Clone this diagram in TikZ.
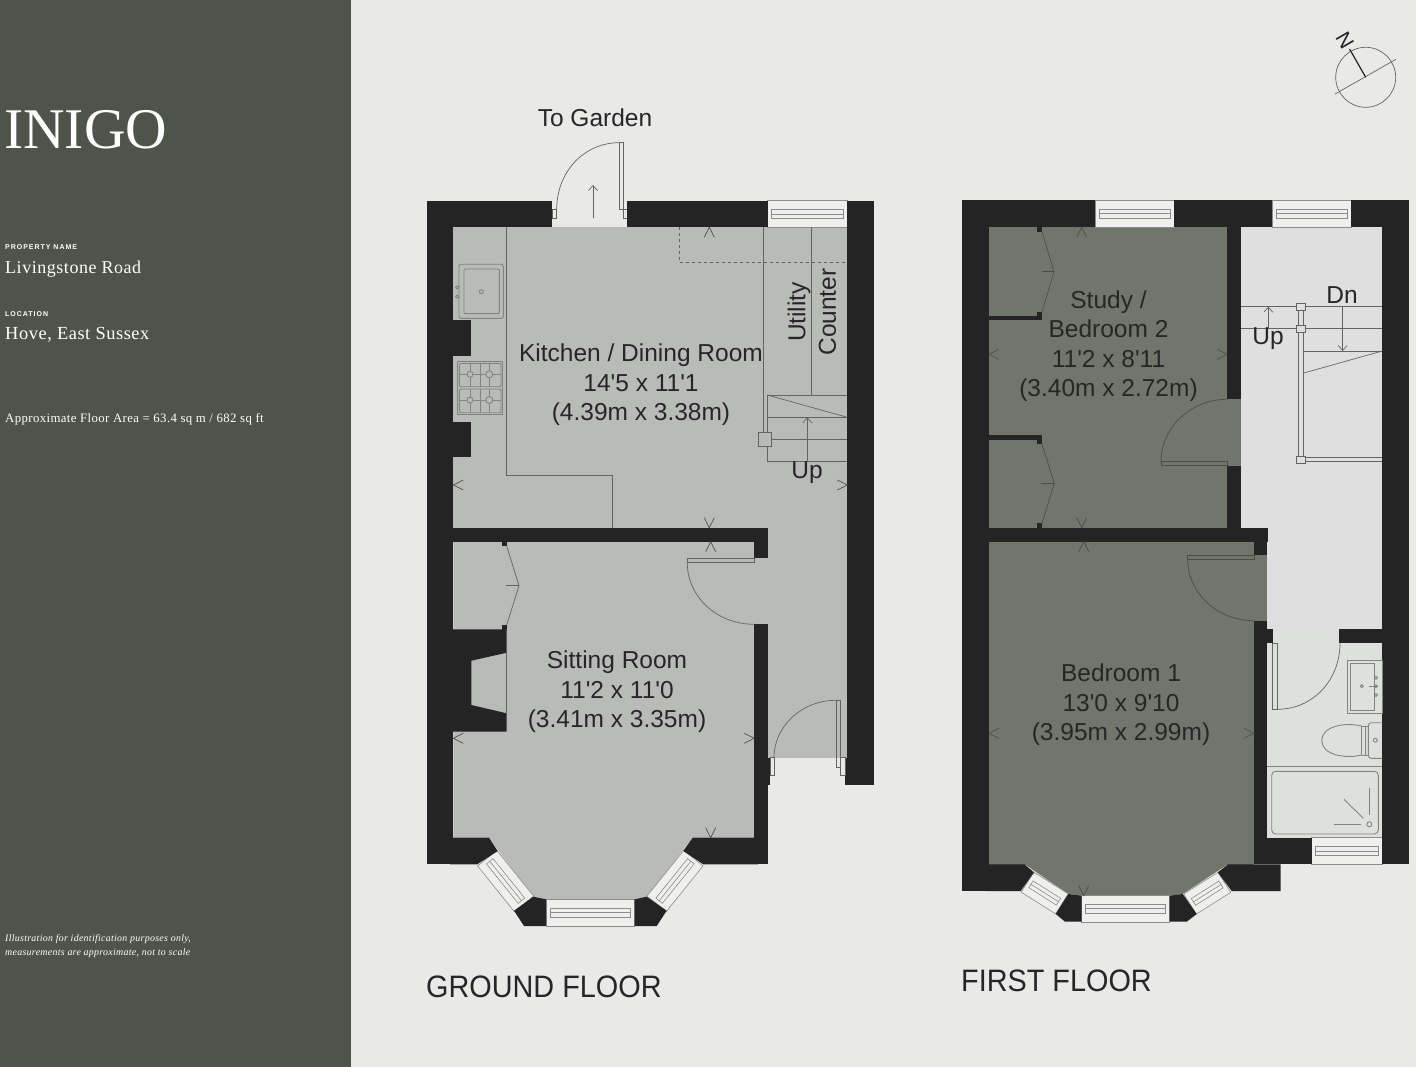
\documentclass[tikz,border=0pt]{standalone}
\usepackage{fontspec}
\setmainfont{Liberation Sans}
\newfontfamily\sidefont[LetterSpace=3]{Liberation Serif}
\newfontfamily\logofont{Liberation Serif}
\newfontfamily\capsfont[LetterSpace=14]{Liberation Sans}
\newcommand{\ft}{\textquotesingle}
\definecolor{paperc}{HTML}{E9E9E7}
\definecolor{sidec}{HTML}{4F544B}
\definecolor{wallc}{HTML}{242424}
\definecolor{groundc}{HTML}{B9BBB8}
\definecolor{roomc}{HTML}{71766D}
\definecolor{landingc}{HTML}{E0DFDF}
\definecolor{bathc}{HTML}{DEE0DD}
\definecolor{glassc}{HTML}{EFEFED}
\definecolor{linec}{HTML}{62655F}
\tikzset{
  thinline/.style={draw=linec, line width=0.7pt},
  darkline/.style={draw=black!70, line width=0.7pt},
  fixture/.style={draw=linec!80, line width=0.9pt},
  glassline/.style={draw=black!45, line width=0.6pt},
  wall/.style={fill=wallc},
  roomlabel/.style={text=black!85, align=center, font=\fontsize{24.5}{29.5}\selectfont, inner sep=0pt},
  floorlabel/.style={text=black!85, anchor=west, inner sep=0pt, xscale=.93, font=\fontsize{31}{31}\selectfont},
  sidelabel/.style={text=white, anchor=west, inner sep=0pt},
  upbarb/.style={thinline, ->, >={Straight Barb[length=5pt, width=9pt]}},
  dimmark/.pic={\draw[darkline] (-5,10) -- (0,0) -- (5,10);},
  glazing/.pic={
    \draw[glassline, fill=glassc] (-#1,-13.3) rectangle (#1,13.3);
    \draw[glassline] (-#1+4,-4.5) rectangle (#1-4,4.5);
    \draw[glassline] (-#1+4,0) -- (#1-4,0);
  },
}
\usetikzlibrary{arrows.meta}
\begin{document}
\begin{tikzpicture}[x=1pt, y=-1pt]
  \useasboundingbox (0,0) rectangle (1416,1067);
  \fill[paperc] (0,0) rectangle (1416,1067);
  \fill[sidec] (0,0) rectangle (350.5,1067);

  % Sidebar
  \node[sidelabel] (logo) at (4,129.5) {\fontsize{57.5}{58}\selectfont\logofont INIGO};
  \node[sidelabel] (namecap) at (5,247) {\capsfont\bfseries\fontsize{7}{8}\selectfont PROPERTY NAME};
  \node[sidelabel] (nametext) at (5,269) {\sidefont\fontsize{18}{20}\selectfont Livingstone Road};
  \node[sidelabel] (placecap) at (5,314) {\capsfont\bfseries\fontsize{7}{8}\selectfont LOCATION};
  \node[sidelabel] (placetext) at (5,334.5) {\sidefont\fontsize{18.4}{20}\selectfont Hove, East Sussex};
  \node[sidelabel] (areatext) at (5,419.5) {\sidefont\fontsize{12.8}{14}\selectfont Approximate Floor Area = 63.4 sq m / 682 sq ft};
  \node[sidelabel, align=left, font=\sidefont\itshape\fontsize{9.9}{14.5}\selectfont] (notetext) at (5,946) {Illustration for identification purposes only,\\measurements are approximate, not to scale};

  % Compass
  \draw[thinline] (1365.7,77.3) circle (30);
  \draw[thinline] (1335,94) -- (1396,59.3);
  \draw[wallc, line width=1.2pt] (1365.7,77.3) -- (1349.5,49);
  \node[rotate=-60, inner sep=0pt, text=wallc, font=\fontsize{21}{21}\selectfont] (north) at (1345,40.5) {N};

  % Ground floor
  \begin{scope}
    \fill[groundc] (453.3,227.3) rectangle (847.3,541.7);
    \fill[groundc] (767.7,541.7) rectangle (847.3,757.7);
    \fill[groundc] (754,558.3) rectangle (768,624.3);
    \fill[groundc] (453.3,541.7) -- (754.3,541.7) -- (754.3,837.7) -- (692.7,837.7) -- (646.7,897)
      -- (634.7,899.3) -- (546,899.3) -- (533.3,897) -- (489,837.7) -- (453.3,837.7) -- cycle;

    \pic at (807.5,214) {glazing=39.8};
    \pic[rotate=-51.2, yscale=.93] at (505.6,881) {glazing=29.3};
    \pic[rotate=51.2, yscale=.93] at (675,881) {glazing=29.3};
    \pic at (590.3,912.7) {glazing=44.3};

    \fill[wall] (426.7,200.7) rectangle (552.3,227.3);
    \fill[wall] (627.3,200.7) rectangle (767.7,227.3);
    \fill[wall] (847.3,200.7) rectangle (874,785);
    \fill[wall] (845,757.7) rectangle (847.4,785);
    \fill[wall] (426.7,200.7) rectangle (453.3,864.3);
    \fill[wall] (450,320) rectangle (471.3,355.7);
    \fill[wall] (450,421.7) rectangle (471.3,457.3);
    \fill[wall] (450,527.7) rectangle (767.7,541.7);
    \fill[wall] (754.3,541) rectangle (767.7,558.3);
    \fill[wall] (450,629.3) -- (506.7,629.3) -- (506.7,652.7) -- (471.3,660.7) -- (471.3,705)
      -- (506.7,713.3) -- (506.7,731.7) -- (450,731.7) -- cycle;
    \fill[wall] (501.7,541) rectangle (506.7,546);
    \fill[wall] (501.7,625) rectangle (506.7,630);
    \fill[wall] (754.3,624.3) rectangle (767.7,864.3);
    \fill[wall] (767,757.7) rectangle (770,785);
    \fill[wall] (450,837.7) -- (489,837.7) -- (497.7,851) -- (477.3,864.3) -- (450,864.3) -- cycle;
    \fill[wall] (758,837.7) -- (692.7,837.7) -- (683.3,851) -- (703.3,864.3) -- (758,864.3) -- cycle;
    \fill[wall] (514,910.7) -- (533.3,896.7) -- (546,899.3) -- (546,926) -- (524,926) -- cycle;
    \fill[wall] (634.7,899.3) -- (646.7,896.7) -- (666.7,910.7) -- (656.7,926) -- (634.7,926) -- cycle;

    % kitchen units
    \draw[thinline] (506.7,227.3) -- (506.7,475) -- (612.7,475) -- (612.7,527.7);
    \draw[thinline, dashed] (679,227.3) -- (679,262.3) -- (847.3,262.3);
    \draw[thinline] (763.3,227.3) -- (763.3,432.3);
    \draw[thinline] (811.7,227.3) -- (811.7,395);
    \draw[thinline] (506.7,652.7) -- (506.7,713.3);

    \draw[fixture, rounded corners=2pt] (459,264.3) rectangle (503.3,318.3);
    \draw[fixture, rounded corners=1pt] (464,269) rectangle (499.3,313.7);
    \draw[fixture] (481.3,291.7) circle (2);
    \draw[fixture] (457.3,287.3) circle (1.7);
    \draw[fixture] (457.3,296.7) circle (1.7);

    \draw[fixture] (457.3,361.7) rectangle (502.7,414);
    \draw[fixture, rounded corners=2pt] (459.3,363.3) rectangle (501,386.7);
    \draw[fixture, rounded corners=2pt] (459.3,389) rectangle (501,412.7);
    \foreach \xb in {470,480,489.3} {
      \draw[fixture] (\xb,363.3) -- (\xb,386.7);
      \draw[fixture] (\xb,389) -- (\xb,412.7);
    }
    \foreach \yb in {374.3,400} {
      \draw[fixture] (459.3,\yb) -- (501,\yb);
      \draw[fixture, fill=groundc] (470,\yb) circle (3);
      \draw[fixture, fill=groundc] (489.3,\yb) circle (3.5);
    }

    % stairs
    \draw[thinline] (767.3,395) -- (847.3,395);
    \draw[thinline] (767.3,395) -- (767.3,461.7) -- (847.3,461.7);
    \draw[thinline] (767.3,395) -- (847.3,417.3);
    \draw[thinline] (767.3,417.3) -- (847.3,417.3);
    \draw[thinline] (767.3,439.3) -- (847.3,439.3);
    \draw[thinline, fill=groundc] (758.7,432.3) rectangle (771.7,446);
    \draw[upbarb] (807.3,461.7) -- (807.3,417.3);

    % doors
    \draw[thinline] (556.7,209.3) .. controls (556.7,172) and (584,142.7) .. (619,142.7);
    \draw[thinline] (619,142.7) -- (619,209.3) -- (627.3,209.3);
    \draw[thinline] (619,142.7) -- (623,142.7) -- (623,218.3) -- (627.3,218.3);
    \draw[thinline] (552.3,209.3) rectangle (556.7,218.3);
    \draw[upbarb] (593,218.3) -- (593,185);

    \draw[thinline] (687.3,558.3) rectangle (754.3,562.7);
    \draw[thinline] (687.3,562.7) .. controls (687.3,597) and (717,624.3) .. (754.3,624.3);

    \draw[thinline] (774,757.7) .. controls (774,726) and (802,700.3) .. (836,700.3);
    \draw[thinline] (836,700.3) rectangle (840.7,767.3);
    \draw[thinline] (770,757.7) rectangle (774,775.7);
    \draw[thinline] (840.7,757.7) rectangle (845,775.7);

    % wardrobe
    \draw[thinline] (506.7,546) -- (519,585.7) -- (506.7,625);
    \draw[thinline] (506,585.7) -- (519,585.7);

    \pic at (709.3,227.3) {dimmark};
    \pic[rotate=180] at (709.3,527.7) {dimmark};
    \pic[rotate=90] at (453.3,485) {dimmark};
    \pic[rotate=-90] at (847.3,485) {dimmark};
    \pic at (710.7,541.7) {dimmark};
    \pic[rotate=180] at (710.7,837.7) {dimmark};
    \pic[rotate=90] at (453.3,738.3) {dimmark};
    \pic[rotate=-90] at (754.3,738.3) {dimmark};

    \node[roomlabel] (kitchen) at (641,385) {Kitchen / Dining Room\\14\ft5 x 11\ft1\\(4.39m x 3.38m)};
    \node[roomlabel] (sitting) at (617,692) {Sitting Room\\11\ft2 x 11\ft0\\(3.41m x 3.35m)};
    \node[roomlabel, rotate=90] (utility) at (799,312) {Utility};
    \node[roomlabel, rotate=90] (counter) at (827.5,312) {Counter};
    \node[roomlabel] (groundup) at (807,473) {Up};
    \node[roomlabel] (garden) at (595,117.5) {To Garden};
    \node[floorlabel] (groundtitle) at (426,987) {GROUND FLOOR};
  \end{scope}

  % First floor
  \begin{scope}
    \fill[roomc] (989,227.3) rectangle (1227.3,527.7);
    \fill[roomc] (1227,399.3) rectangle (1241,465.7);
    \fill[roomc] (989,541.7) rectangle (1254,865);
    \fill[roomc] (1254,555) rectangle (1267.5,620.7);
    \fill[roomc] (1024.3,864) -- (1228.3,864) -- (1182.7,894) -- (1169.7,895.7) -- (1081.7,895.7) -- (1068.3,894) -- cycle;
    \fill[landingc] (1241,227.3) rectangle (1382.3,528);
    \fill[landingc] (1267.3,527) rectangle (1382.3,629.3);
    \fill[bathc] (1267.3,643.3) rectangle (1382.3,837.7);
    \fill[bathc] (1273.3,629.3) rectangle (1339.3,643.5);

    \pic at (1134.7,213.7) {glazing=39.7};
    \pic at (1311.7,213.7) {glazing=39.7};
    \pic[rotate=-32.3, yscale=.89] at (1044.7,893) {glazing=20.3};
    \pic[rotate=32.3, yscale=.89] at (1207.2,893.2) {glazing=20.3};
    \pic at (1125.7,908.7) {glazing=44};
    \pic at (1347,851) {glazing=35.3};

    \fill[wall] (961.7,200) rectangle (1095,227.3);
    \fill[wall] (1174.3,200) rectangle (1272,227.3);
    \fill[wall] (1351.3,200) rectangle (1409,227.3);
    \fill[wall] (961.7,200) rectangle (989,891);
    \fill[wall] (1382.3,200) rectangle (1409,864.3);
    \fill[wall] (1227.3,227) rectangle (1241,399.3);
    \fill[wall] (1227.3,465.7) rectangle (1241,528);
    \fill[wall] (985,527.7) rectangle (1267.7,541.7);
    \fill[wall] (1254,541) rectangle (1267.3,555);
    \fill[wall] (1254,620.7) rectangle (1267.3,864.3);
    \fill[wall] (1267,629.3) rectangle (1273.3,643.3);
    \fill[wall] (1339.3,629.3) rectangle (1382.5,643.3);
    \fill[wall] (1254,837.7) rectangle (1311.7,864.3);
    \fill[wall] (985,315.7) rectangle (1042,320);
    \fill[wall] (1037.3,311.7) rectangle (1042,320);
    \fill[wall] (985,435) rectangle (1042,440);
    \fill[wall] (1037.3,435) rectangle (1042,444);
    \fill[wall] (1037.3,227) rectangle (1042,231.7);
    \fill[wall] (1037.3,523.3) rectangle (1042,528);
    \fill[wall] (985,864.3) -- (1024.3,864.3) -- (1034,872.3) -- (1020.7,891) -- (985,891) -- cycle;
    \fill[wall] (1217.7,872.3) -- (1228.3,864.3) -- (1280.7,864.3) -- (1280.7,891) -- (1231.7,891) -- cycle;
    \fill[wall] (1055.7,914) -- (1068.3,894) -- (1081.7,895.7) -- (1081.7,921.7) -- (1065,921.7) -- cycle;
    \fill[wall] (1169.7,895.7) -- (1182.7,894) -- (1196.7,914) -- (1186.7,921.7) -- (1169.7,921.7) -- cycle;

    % wardrobes
    \draw[darkline] (1042,231.7) -- (1054,271.7) -- (1042,311.7);
    \draw[darkline] (1041.5,271.7) -- (1054,271.7);
    \draw[darkline] (1042,444) -- (1054.3,483.3) -- (1042,523.3);
    \draw[darkline] (1041,483.3) -- (1054.3,483.3);

    % doors
    \draw[darkline] (1161,461.7) rectangle (1227.3,465.7);
    \draw[darkline] (1161,461.7) .. controls (1161,427) and (1191,399.3) .. (1227.3,399.3);
    \draw[darkline] (1187.7,555) rectangle (1254,559.3);
    \draw[darkline] (1187.7,559.3) .. controls (1187.7,593) and (1217,620.7) .. (1254,620.7);
    \draw[thinline] (1272.7,643.3) rectangle (1277.3,709.3);
    \draw[thinline] (1277.3,709.3) .. controls (1313,709.3) and (1340,680) .. (1340,643.3);

    % landing stairs
    \draw[thinline] (1241,306.7) -- (1382.3,306.7);
    \draw[thinline] (1241,328.7) -- (1382.3,328.7);
    \draw[thinline] (1302.7,351) -- (1382.3,351);
    \draw[thinline] (1302.7,373.3) -- (1382.3,351);
    \draw[thinline, fill=landingc] (1298.3,306.7) rectangle (1303,460);
    \draw[thinline] (1305,457.3) -- (1382.3,457.3);
    \draw[thinline] (1305,461.7) -- (1382.3,461.7);
    \draw[thinline, fill=landingc] (1296.7,303.3) rectangle (1305.3,310.3);
    \draw[thinline, fill=landingc] (1296.7,325.3) rectangle (1305.3,332.3);
    \draw[thinline, fill=landingc] (1296.7,456.3) rectangle (1305.3,463.3);
    \draw[upbarb] (1268.3,328.7) -- (1268.3,306.7);
    \draw[upbarb] (1342.7,306.7) -- (1342.7,351);

    % bathroom
    \draw[fixture] (1347.3,660) rectangle (1382.3,713.3);
    \draw[fixture] (1350.7,663.3) rectangle (1374,710);
    \foreach \yb in {677.7,686.3,695} {
      \draw[fixture] (1376,\yb) circle (1.5);
    }
    \draw[fixture] (1361.7,686.3) circle (1.5);
    \draw[fixture] (1369,686.3) -- (1378,686.3);
    \draw[fixture] (1361.7,726) .. controls (1345,722) and (1322,726) .. (1321.7,740.5)
      .. controls (1322,755) and (1345,759) .. (1361.7,755);
    \draw[fixture] (1361.7,726) -- (1361.7,755);
    \draw[fixture] (1365.7,726) -- (1365.7,755);
    \draw[fixture] (1361.7,726) -- (1368.3,726);
    \draw[fixture] (1361.7,755) -- (1368.3,755);
    \draw[fixture, rounded corners=3pt] (1382.3,722.7) -- (1368.3,722.7) -- (1368.3,758.3) -- (1382.3,758.3);
    \draw[fixture] (1375.3,740.3) circle (2);
    \draw[fixture] (1267.3,766.7) -- (1382.3,766.7);
    \draw[fixture, rounded corners=4pt] (1271.7,771.3) rectangle (1378.3,834);
    \draw[fixture] (1369.3,788.3) -- (1369.3,815);
    \draw[fixture] (1344,799.3) -- (1363.3,818.3);
    \draw[fixture] (1334,824.3) -- (1360.7,824.3);
    \draw[fixture] (1369.3,824.3) circle (2.5);

    \pic at (1081.7,227.3) {dimmark};
    \pic[rotate=180] at (1081.7,527.7) {dimmark};
    \pic[rotate=90] at (989,354.3) {dimmark};
    \pic[rotate=-90] at (1227.3,354.3) {dimmark};
    \pic at (1083.7,541.7) {dimmark};
    \pic[rotate=180] at (1083.7,895.7) {dimmark};
    \pic[rotate=90] at (989,733.3) {dimmark};
    \pic[rotate=-90] at (1254,733.3) {dimmark};

    \node[roomlabel] (study) at (1108.5,346) {Study /\\Bedroom 2\\11\ft2 x 8\ft11\\(3.40m x 2.72m)};
    \node[roomlabel] (bedroom) at (1121,705) {Bedroom 1\\13\ft0 x 9\ft10\\(3.95m x 2.99m)};
    \node[roomlabel] (landup) at (1268,339) {Up};
    \node[roomlabel] (landdn) at (1342,295) {Dn};
    \node[floorlabel] (firsttitle) at (961,981) {FIRST FLOOR};
  \end{scope}
\end{tikzpicture}
\end{document}
